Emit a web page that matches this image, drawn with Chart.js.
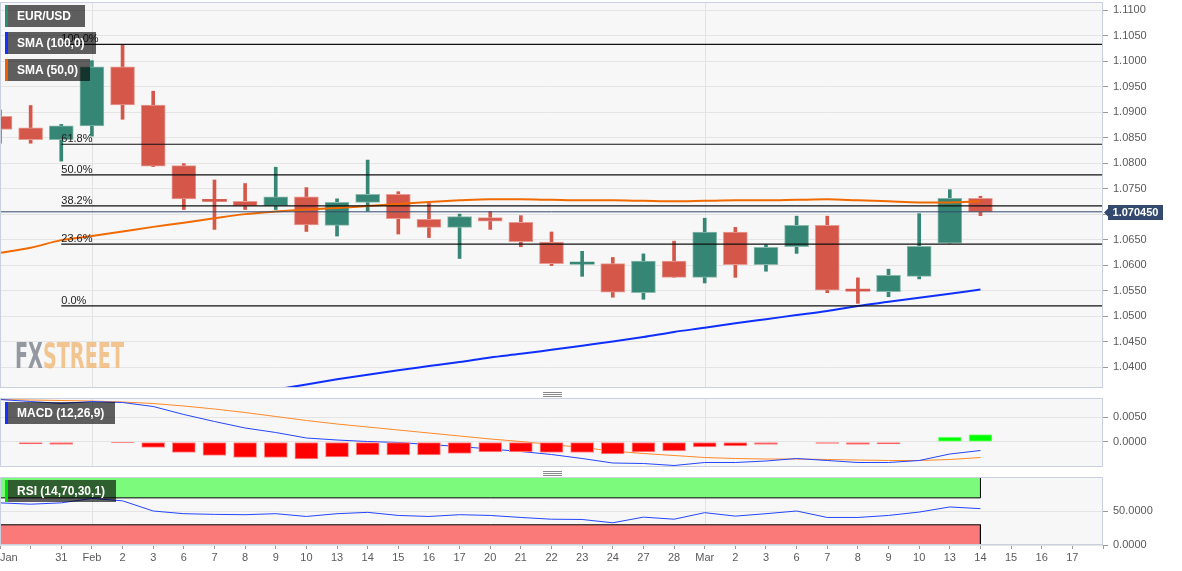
<!DOCTYPE html>
<html>
<head>
<meta charset="utf-8">
<script src="https://cdn.jsdelivr.net/npm/chart.js@4.4.1/dist/chart.umd.min.js"></script>
<style>
html,body{margin:0;padding:0;background:#fff;}
body{width:1182px;height:571px;position:relative;overflow:hidden;font-family:"Liberation Sans",Arial,sans-serif;}
canvas{position:absolute;left:0;display:block;}
#cMain{top:0;} #cMacd{top:390px;} #cRsi{top:470px;}
.lg{position:absolute;left:5px;height:22px;line-height:22px;background:rgba(0,0,0,0.62);color:#fff;font-weight:bold;font-size:12px;padding-left:12px;box-sizing:border-box;white-space:nowrap;z-index:5;}
.lg b{position:absolute;left:0;top:0;width:3px;height:22px;}
.grip{position:absolute;left:543px;width:19px;height:5px;border-top:1px solid #8a8a8a;border-bottom:1px solid #8a8a8a;z-index:5;box-sizing:border-box;}
.grip::after{content:"";position:absolute;left:0;right:0;top:1px;border-top:1px solid #8a8a8a;}
#wm{position:absolute;left:15px;top:338px;font-family:"Liberation Sans Narrow","DejaVu Sans Condensed","Liberation Sans",sans-serif;font-weight:bold;font-size:36px;line-height:36px;white-space:nowrap;transform-origin:0 0;z-index:2;letter-spacing:0;}
#wm .fx{color:rgba(130,136,146,0.85);} #wm .st{color:rgba(240,180,110,0.75);}
</style>
</head>
<body>
<canvas id="cMain" width="1182" height="390"></canvas>
<canvas id="cMacd" width="1182" height="80"></canvas>
<canvas id="cRsi" width="1182" height="101"></canvas>
<div class="lg" style="top:5px;width:80px"><b style="background:#2e8b73"></b>EUR/USD</div>
<div class="lg" style="top:32px;width:91px"><b style="background:#1432ff"></b>SMA (100,0)</div>
<div class="lg" style="top:59px;width:85px"><b style="background:#f06000"></b>SMA (50,0)</div>
<div class="lg" style="top:402px;width:110px"><b style="background:#1432ff"></b>MACD (12,26,9)</div>
<div class="lg" style="top:480px;width:111px"><b style="background:#00dd00"></b>RSI (14,70,30,1)</div>
<div class="grip" style="top:392px"></div>
<div class="grip" style="top:471px"></div>
<div id="wm"><span class="fx">FX</span><span class="st">STREET</span></div>
<script>
// ---------- data ----------
const dateLabels = ['Jan','','31','Feb','2','3','6','7','8','9','10','13','14','15','16','17','20','21','22','23','24','27','28','Mar','2','3','6','7','8','9','10','13','14','15','16','17',''];
const monthStarts = [3, 23];

const opens  = [1.0892,1.0869,1.0846,1.0873,1.0989,1.0914,1.0795,1.0728,1.0725,1.0716,1.0734,1.0678,1.0723,1.0739,1.0690,1.0674,1.0693,1.0684,1.0645,1.0602,1.0603,1.0546,1.0608,1.0576,1.0665,1.0601,1.0636,1.0678,1.0551,1.0548,1.0578,1.0643,1.0731];
const highs  = [1.0904,1.0913,1.0876,1.1001,1.1033,1.0941,1.0799,1.0767,1.0760,1.0792,1.0752,1.0730,1.0806,1.0744,1.0721,1.0700,1.0705,1.0697,1.0665,1.0627,1.0615,1.0622,1.0647,1.0692,1.0674,1.0640,1.0696,1.0696,1.0575,1.0592,1.0701,1.0748,1.0735];
const lows   = [1.0839,1.0839,1.0804,1.0853,1.0886,1.0793,1.0709,1.0670,1.0709,1.0709,1.0666,1.0657,1.0706,1.0661,1.0654,1.0613,1.0670,1.0636,1.0599,1.0578,1.0537,1.0533,1.0576,1.0565,1.0576,1.0588,1.0623,1.0546,1.0525,1.0538,1.0573,1.0643,1.0697];
const closes = [1.0866,1.0846,1.0873,1.0989,1.0914,1.0794,1.0730,1.0725,1.0716,1.0734,1.0679,1.0723,1.0739,1.0691,1.0674,1.0695,1.0686,1.0646,1.0603,1.0604,1.0547,1.0608,1.0576,1.0665,1.0601,1.0635,1.0678,1.0551,1.0549,1.0580,1.0637,1.0731,1.07045];

const sma50  = [1.0624,1.0634,1.0649,1.0657,1.0666,1.0675,1.0683,1.0692,1.0700,1.0705,1.0709,1.0712,1.0716,1.0720,1.0724,1.0727,1.0729,1.0729,1.0728,1.0727,1.0727,1.0726,1.0725,1.0726,1.0727,1.0727,1.0728,1.0729,1.0727,1.0725,1.0723,1.0723,1.0725];
const sma100 = [null,null,null,null,null,null,null,null,1.0346,1.0356,1.0366,1.0376,1.0385,1.0394,1.0402,1.0410,1.0419,1.0426,1.0434,1.0442,1.0450,1.0459,1.0469,1.0477,1.0486,1.0494,1.0502,1.0510,1.0520,1.0528,1.0536,1.0544,1.0552];

const fibLevels = [1.1033, 1.0837, 1.0777, 1.0716, 1.0641, 1.0520];
const fibNames  = ['100.0%','61.8%','50.0%','38.2%','23.6%','0.0%'];
const fibStart = 2;
const lastPrice = 1.07045;
const priceTicks = [1.0400,1.0450,1.0500,1.0550,1.0600,1.0650,1.0700,1.0750,1.0800,1.0850,1.0900,1.0950,1.1000,1.1050,1.1100];

const macdHist   = [null,-0.0004,-0.0005,null,-0.0002,-0.0011,-0.0021,-0.0027,-0.0031,-0.0031,-0.0034,-0.0030,-0.0026,-0.0026,-0.0026,-0.0023,-0.0020,-0.0020,-0.0021,-0.0021,-0.0024,-0.0020,-0.0018,-0.0010,-0.0008,-0.0005,0.0001,-0.0003,-0.0005,-0.0004,0.0001,0.0010,0.0015];
const macdLine   = [0.0085,0.0081,0.0077,0.0081,0.0079,0.0071,0.0055,0.0041,0.0028,0.0019,0.0008,0.0004,0.0001,-0.0001,-0.0005,-0.0009,-0.0014,-0.0019,-0.0025,-0.0033,-0.0042,-0.0043,-0.0047,-0.0041,-0.0041,-0.0038,-0.0033,-0.0037,-0.0041,-0.0041,-0.0037,-0.0024,-0.0017];
const macdSignal = [0.0085,0.0084,0.0083,0.0082,0.0080,0.0077,0.0072,0.0066,0.0059,0.0051,0.0043,0.0036,0.0030,0.0024,0.0018,0.0012,0.0006,0.0001,-0.0005,-0.0011,-0.0018,-0.0023,-0.0027,-0.0031,-0.0033,-0.0034,-0.0034,-0.0035,-0.0036,-0.0037,-0.0037,-0.0035,-0.0031];
const macdTicks = [0, 0.005];

const rsiValues = [62.6,60.6,62.6,69.2,65.6,50.5,46.5,45.5,45.0,46.5,42.4,46.5,48.5,43.9,42.4,45.0,43.9,40.9,38.3,37.9,33.0,41.4,38.3,48.0,42.9,46.5,50.5,40.9,40.9,43.9,48.9,56.5,54.0];
const rsiTicks = [0, 50];
const rsiUpper = 70, rsiLower = 30;

// ---------- shared setup ----------
Chart.defaults.font.family = '"Liberation Sans", Arial, sans-serif';
Chart.defaults.font.size = 11;
Chart.defaults.color = '#5a5a5a';
Chart.defaults.animation = false;

const X_MAX = dateLabels.length - 1;
const AXIS_W = 79;
const lastIdx = closes.length - 1;

const panelPlugin = {
  id: 'panel',
  beforeDraw(chart) {
    const {ctx, chartArea: a} = chart;
    ctx.save();
    ctx.fillStyle = '#f7f7f7';
    ctx.fillRect(a.left, a.top, a.right - a.left, a.bottom - a.top);
    ctx.restore();
  },
  beforeDatasetsDraw(chart) {
    const {ctx, chartArea: a, scales: {x}} = chart;
    ctx.save();
    ctx.strokeStyle = '#e2e2e2';
    ctx.lineWidth = 1;
    monthStarts.forEach(m => {
      const px = Math.round(x.getPixelForValue(m)) + 0.5;
      ctx.beginPath(); ctx.moveTo(px, a.top); ctx.lineTo(px, a.bottom); ctx.stroke();
    });
    ctx.restore();
  },
  afterDraw(chart) {
    const {ctx, chartArea: a} = chart;
    ctx.save();
    ctx.strokeStyle = '#c9d0df';
    ctx.lineWidth = 1;
    ctx.strokeRect(a.left + 0.5, a.top + 0.5, a.right - a.left - 1, a.bottom - a.top - 1);
    ctx.restore();
  }
};

function xHidden() {
  return {
    type: 'linear', min: 0, max: X_MAX, offset: false,
    ticks: {display: false},
    grid: {display: false},
    border: {display: false},
    afterFit: s => { s.height = 0; s.paddingLeft = 0; s.paddingRight = 0; }
  };
}
function yAxis(min, max, ticks, fmt) {
  return {
    position: 'right', min, max,
    afterBuildTicks: s => { s.ticks = ticks.map(v => ({value: v})); },
    afterFit: s => { s.width = AXIS_W; s.paddingTop = 0; s.paddingBottom = 0; },
    ticks: {callback: fmt, color: '#5a5a5a', padding: 5, font: {size: 11}},
    grid: {color: '#e4e4e4', tickColor: '#9a9a9a', tickLength: 5},
    border: {display: false}
  };
}
const pts = arr => arr.map((v, i) => ({x: i, y: v})).filter(p => p.y !== null);
const baseOpts = (pad) => ({
  responsive: false, animation: false,
  layout: {padding: pad, autoPadding: false},
  plugins: {legend: {display: false}, tooltip: {enabled: false}},
  events: []
});

// ---------- main price panel ----------
const RED = '#d4574a', GREEN = '#358674';
const RED_EDGE = '#e89d94', GREEN_EDGE = '#89b9ad';
const isUp = i => closes[i] >= opens[i];

const fibPlugin = {
  id: 'fibText',
  afterDatasetsDraw(chart) {
    const {ctx, scales: {x, y}} = chart;
    ctx.save();
    ctx.font = '11px "Liberation Sans", Arial, sans-serif';
    ctx.fillStyle = '#222';
    ctx.textAlign = 'left';
    ctx.textBaseline = 'alphabetic';
    fibLevels.forEach((v, k) => ctx.fillText(fibNames[k], x.getPixelForValue(fibStart), y.getPixelForValue(v) - 2));
    ctx.restore();
  }
};
const tagPlugin = {
  id: 'priceTag',
  afterDraw(chart) {
    const {ctx, chartArea: a, scales: {y}} = chart;
    const py = Math.round(y.getPixelForValue(lastPrice)) + 0.5;
    const l = a.right + 5, r = a.right + 60;
    ctx.save();
    ctx.fillStyle = '#34496e';
    ctx.beginPath();
    ctx.moveTo(a.right + 1, py);
    ctx.lineTo(l, py - 4);
    ctx.lineTo(l, py - 7.5);
    ctx.lineTo(r, py - 7.5);
    ctx.lineTo(r, py + 7.5);
    ctx.lineTo(l, py + 7.5);
    ctx.lineTo(l, py + 4);
    ctx.closePath();
    ctx.fill();
    ctx.fillStyle = '#fff';
    ctx.font = 'bold 11px "Liberation Sans", Arial, sans-serif';
    ctx.textAlign = 'center';
    ctx.textBaseline = 'middle';
    ctx.fillText(lastPrice.toFixed(6), (l + r) / 2, py + 0.5);
    ctx.restore();
  }
};

const mainDatasets = [
  {type: 'line', data: [{x: 0, y: lastPrice}, {x: X_MAX, y: lastPrice}], borderColor: '#34496e', borderWidth: 1, pointRadius: 0},
  ...fibLevels.map(v => ({type: 'line', data: [{x: fibStart, y: v}, {x: X_MAX, y: v}], borderColor: '#111', borderWidth: 1.2, pointRadius: 0})),
  {type: 'line', data: pts(sma50), borderColor: '#f06a00', borderWidth: 2, pointRadius: 0, cubicInterpolationMode: 'monotone'},
  {type: 'line', data: pts(sma100), borderColor: '#0e2fff', borderWidth: 2, pointRadius: 0, cubicInterpolationMode: 'monotone'},
  {type: 'bar', data: opens.map((o, i) => ({x: i, y: [o, closes[i]]})), grouped: false, barThickness: 24, minBarLength: 2,
   backgroundColor: c => isUp(c.dataIndex) ? GREEN : RED,
   borderColor: c => isUp(c.dataIndex) ? GREEN_EDGE : RED_EDGE,
   borderWidth: c => Math.abs(opens[c.dataIndex] - closes[c.dataIndex]) < 0.0006 ? 0 : 1,
   borderSkipped: false, clip: 0},
  {type: 'bar', data: lows.map((lo, i) => ({x: i, y: [lo, highs[i]]})), grouped: false, barThickness: 3,
   backgroundColor: c => isUp(c.dataIndex) ? GREEN : RED, borderWidth: 0, clip: 0}
];

new Chart(document.getElementById('cMain'), {
  type: 'bar',
  data: {datasets: mainDatasets},
  options: {
    ...baseOpts({top: 2, bottom: 2, left: 0, right: 0}),
    scales: {
      x: xHidden(),
      y: yAxis(1.0359, 1.1116, priceTicks, v => Number(v).toFixed(4))
    }
  },
  plugins: [panelPlugin, fibPlugin, tagPlugin]
});

// ---------- MACD panel ----------
new Chart(document.getElementById('cMacd'), {
  type: 'bar',
  data: {datasets: [
    {type: 'bar', data: pts(macdHist), grouped: false, barThickness: 23,
     backgroundColor: c => c.raw.y >= 0 ? '#00ff00' : '#ff0000',
     borderColor: c => c.raw.y >= 0 ? '#8cff8c' : '#ff8c8c',
     borderWidth: 1, borderSkipped: false, clip: 0},
    {type: 'line', data: pts(macdLine), borderColor: '#2446ff', borderWidth: 1, pointRadius: 0},
    {type: 'line', data: pts(macdSignal), borderColor: '#ff8a2a', borderWidth: 1, pointRadius: 0}
  ]},
  options: {
    ...baseOpts({top: 8, bottom: 3, left: 0, right: 0}),
    scales: {
      x: xHidden(),
      y: yAxis(-0.005, 0.0088, macdTicks, v => Number(v).toFixed(4))
    }
  },
  plugins: [panelPlugin]
});

// ---------- RSI panel ----------
const RSI_MAX = 101;
new Chart(document.getElementById('cRsi'), {
  type: 'line',
  data: {datasets: [
    {data: pts(rsiValues), borderColor: '#2446ff', borderWidth: 1, pointRadius: 0, fill: false},
    {data: [{x: 0, y: rsiUpper}, {x: lastIdx, y: rsiUpper}, {x: lastIdx, y: RSI_MAX}], borderColor: '#000', borderWidth: 1, pointRadius: 0, fill: 'end', backgroundColor: '#7cfa7c'},
    {data: [{x: 0, y: rsiLower}, {x: lastIdx, y: rsiLower}, {x: lastIdx, y: 0}], borderColor: '#000', borderWidth: 1, pointRadius: 0, fill: 'start', backgroundColor: '#fa7a7a'}
  ]},
  options: {
    ...baseOpts({top: 7, bottom: 0, left: 0, right: 0}),
    scales: {
      x: {
        type: 'linear', min: 0, max: X_MAX, offset: false,
        afterBuildTicks: s => { s.ticks = dateLabels.map((_, i) => ({value: i})); },
        afterFit: s => { s.height = 26; s.paddingLeft = 0; s.paddingRight = 0; },
        ticks: {callback: v => dateLabels[v], autoSkip: false, maxRotation: 0, align: 'inner', color: '#5a5a5a', padding: 2, font: {size: 11}},
        grid: {drawOnChartArea: false, tickColor: '#9a9a9a', tickLength: 4},
        border: {display: false}
      },
      y: yAxis(0, RSI_MAX, rsiTicks, v => Number(v).toFixed(4))
    }
  },
  plugins: [panelPlugin]
});

// watermark width fit
const wm = document.getElementById('wm');
const ww = wm.getBoundingClientRect().width;
wm.style.transform = 'scaleX(' + (109 / ww) + ')';
</script>
</body>
</html>
